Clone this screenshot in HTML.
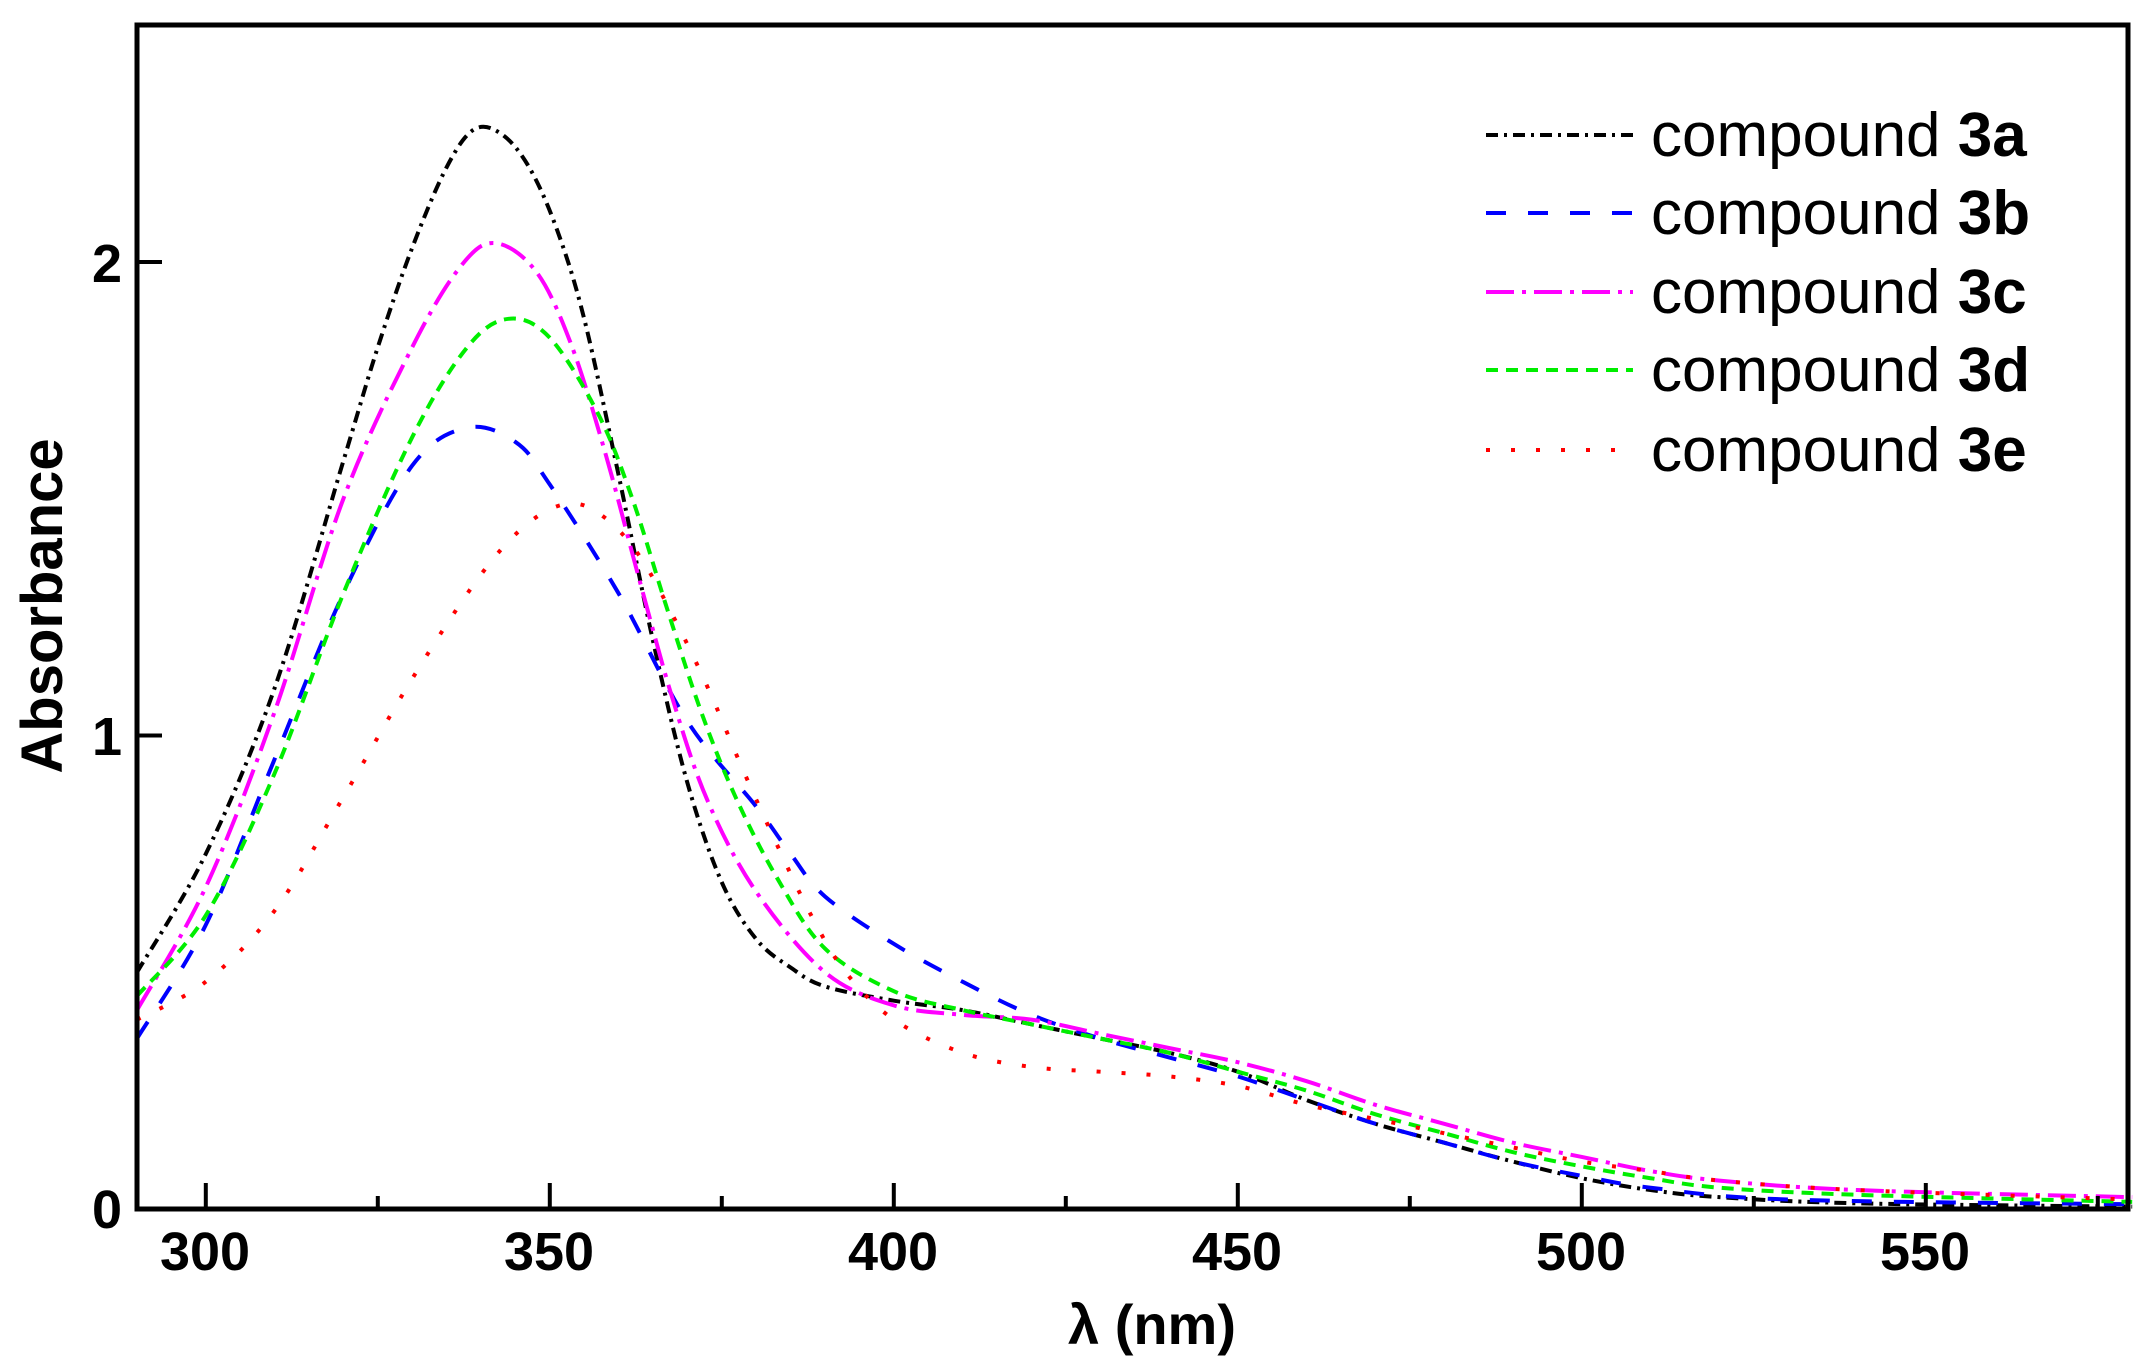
<!DOCTYPE html>
<html><head><meta charset="utf-8"><style>
html,body{margin:0;padding:0;background:#fff;}
svg{display:block;}
text{font-family:"Liberation Sans",Arial,sans-serif;}
</style></head><body>
<svg id="s" width="2150" height="1371" viewBox="0 0 2150 1371" xmlns="http://www.w3.org/2000/svg">
<rect width="2150" height="1371" fill="#fff"/>
<g id="curves" fill="none" stroke-width="4"></g>
<rect x="137" y="25" width="1991" height="1184" fill="none" stroke="#000" stroke-width="5"/>
<g id="ticks" stroke="#000" stroke-width="4"></g>
<g font-weight="bold" font-size="54" text-anchor="middle" fill="#000">
<text x="205" y="1270">300</text>
<text x="549" y="1270">350</text>
<text x="893" y="1270">400</text>
<text x="1237" y="1270">450</text>
<text x="1581" y="1270">500</text>
<text x="1925" y="1270">550</text>
<text x="107" y="1228">0</text>
<text x="107" y="755">1</text>
<text x="107" y="282">2</text>
<text x="1152" y="1344" font-size="56">λ (nm)</text>
<text transform="translate(62,606) rotate(-90)" font-size="58">Absorbance</text>
</g>
<g font-size="62" fill="#000">
<line x1="1486" y1="135" x2="1633" y2="135" stroke="#000" stroke-width="4" stroke-dasharray="12,6,3,6"/>
<line x1="1486" y1="213" x2="1633" y2="213" stroke="#0000ff" stroke-width="4" stroke-dasharray="20,22"/>
<line x1="1486" y1="292" x2="1633" y2="292" stroke="#ff00ff" stroke-width="4" stroke-dasharray="28,8,4,8"/>
<line x1="1486" y1="370" x2="1633" y2="370" stroke="#00ee00" stroke-width="4" stroke-dasharray="12,8"/>
<line x1="1486" y1="450" x2="1633" y2="450" stroke="#ff0000" stroke-width="4" stroke-dasharray="4,21"/>
<text x="1651" y="156">compound <tspan font-weight="bold">3a</tspan></text>
<text x="1651" y="234">compound <tspan font-weight="bold">3b</tspan></text>
<text x="1651" y="313">compound <tspan font-weight="bold">3c</tspan></text>
<text x="1651" y="391">compound <tspan font-weight="bold">3d</tspan></text>
<text x="1651" y="471">compound <tspan font-weight="bold">3e</tspan></text>
</g>
</svg>
<script>
var NS="http://www.w3.org/2000/svg";
function X(l){return 137+6.88*(l-290);}
function Y(a){return 1209-473.5*a;}
var series=[
{c:"#000000",d:"12,6,3,6",p:[[290,0.5],[300,0.75],[310,1.1],[320,1.58],[325,1.82],[330,2.03],[335,2.2],[339,2.28],[343,2.27],[347,2.2],[351,2.07],[355,1.88],[360,1.55],[365,1.2],[370,0.9],[375,0.69],[380,0.57],[385,0.51],[390,0.47],[400,0.44],[410,0.42],[420,0.39],[430,0.36],[440,0.33],[450,0.29],[460,0.23],[470,0.18],[480,0.14],[490,0.1],[500,0.065],[510,0.04],[520,0.025],[540,0.012],[580,0.005]]},
{c:"#0000ff",d:"20,22",p:[[290,0.36],[300,0.6],[310,0.95],[320,1.3],[330,1.57],[338,1.65],[345,1.62],[350,1.53],[360,1.3],[370,1.03],[380,0.85],[385,0.75],[390,0.66],[400,0.56],[410,0.48],[420,0.41],[430,0.36],[440,0.32],[450,0.28],[460,0.23],[470,0.18],[480,0.14],[490,0.1],[500,0.07],[510,0.045],[530,0.02],[580,0.01]]},
{c:"#ff00ff",d:"28,8,4,8",p:[[290,0.42],[300,0.68],[310,1.05],[320,1.5],[330,1.82],[337,1.99],[342,2.04],[348,1.98],[353,1.83],[358,1.6],[363,1.33],[368,1.07],[373,0.86],[380,0.67],[390,0.5],[400,0.43],[410,0.41],[420,0.4],[430,0.37],[440,0.34],[450,0.31],[460,0.27],[470,0.22],[480,0.18],[490,0.14],[500,0.11],[510,0.08],[520,0.06],[540,0.04],[580,0.025]]},
{c:"#00ee00",d:"12,8",p:[[290,0.45],[300,0.62],[310,0.92],[320,1.3],[330,1.63],[338,1.82],[344,1.88],[350,1.84],[357,1.68],[362,1.5],[367,1.27],[372,1.05],[377,0.87],[383,0.7],[390,0.55],[400,0.46],[410,0.42],[420,0.39],[430,0.36],[440,0.33],[450,0.29],[460,0.25],[470,0.2],[480,0.16],[490,0.12],[500,0.09],[510,0.065],[520,0.045],[540,0.03],[580,0.015]]},
{c:"#ff0000",d:"4,21",p:[[290,0.4],[300,0.48],[310,0.63],[320,0.87],[330,1.12],[340,1.34],[347,1.45],[353,1.49],[358,1.46],[363,1.38],[368,1.25],[373,1.1],[378,0.93],[383,0.77],[388,0.62],[393,0.5],[400,0.4],[410,0.33],[420,0.3],[430,0.29],[440,0.28],[450,0.26],[460,0.22],[470,0.19],[480,0.16],[490,0.13],[500,0.1],[510,0.08],[520,0.06],[540,0.04],[580,0.02]]}
];
var g=document.getElementById("curves");
series.forEach(function(s){
 var pts=s.p.map(function(q){return [X(q[0]),Y(q[1])];});
 var d="M"+pts[0][0]+","+pts[0][1];
 for(var i=0;i<pts.length-1;i++){
  var p0=pts[Math.max(i-1,0)],p1=pts[i],p2=pts[i+1],p3=pts[Math.min(i+2,pts.length-1)];
  var c1=[p1[0]+(p2[0]-p0[0])/6,p1[1]+(p2[1]-p0[1])/6];
  var c2=[p2[0]-(p3[0]-p1[0])/6,p2[1]-(p3[1]-p1[1])/6];
  d+=" C"+c1[0]+","+c1[1]+" "+c2[0]+","+c2[1]+" "+p2[0]+","+p2[1];
 }
 var e=document.createElementNS(NS,"path");
 e.setAttribute("d",d);e.setAttribute("stroke",s.c);e.setAttribute("stroke-dasharray",s.d);
 g.appendChild(e);
});
var t=document.getElementById("ticks");
function ln(x1,y1,x2,y2){var e=document.createElementNS(NS,"line");e.setAttribute("x1",x1);e.setAttribute("y1",y1);e.setAttribute("x2",x2);e.setAttribute("y2",y2);t.appendChild(e);}
for(var l=300;l<=575;l+=25){var x=X(l);ln(x,1209,x,1209-(l%50==0?26:13));}
for(var a=0;a<=2;a+=1){ln(137,Y(a),162,Y(a));}
</script>
</body></html>
